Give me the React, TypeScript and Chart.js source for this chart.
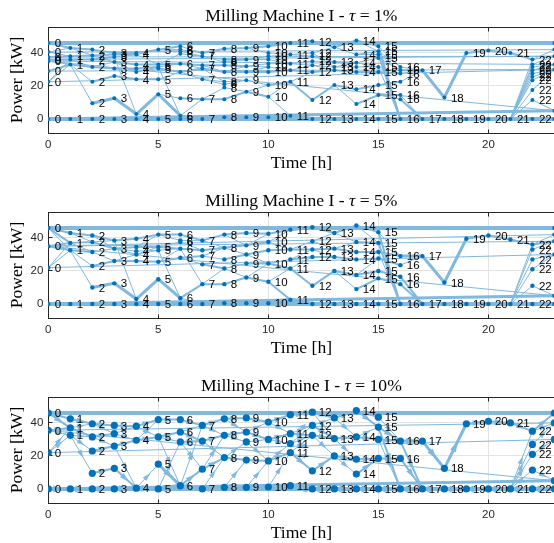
import React, { useEffect, useRef } from "react";
import { Chart, registerables } from "chart.js";

Chart.register(...registerables);

// ---------------- data ----------------
const TAU_LABELS = ["1%", "5%", "10%"];
const X_TICKS = [0, 5, 10, 15, 20];
const Y_TICKS = [0, 20, 40];
const X_RANGE = [0, 23];
const Y_RANGE = [-8.5, 55.7];

// node power levels (kW) for each hour 0..23
const NODES_1: number[][] = [
  [46, 40.5, 37.5, 36, 35, 29, 22.5, 0],
  [43, 38, 36, 33, 0],
  [42, 38.5, 36, 31.5, 22.5, 9.5, 0],
  [40, 39, 37.5, 34.5, 30.5, 26, 12.5, 0],
  [40, 39, 33, 30.5, 28.5, 24, 3, 0],
  [42, 33, 31.5, 30.5, 24, 15, 0],
  [44, 42, 41, 39.5, 33.5, 28.5, 12.5, 2, 0],
  [40, 38, 32.5, 30.5, 24, 12, 0],
  [42.5, 36, 34.5, 32.5, 28.5, 22.5, 21, 19, 12, 1],
  [43, 36, 32, 28.5, 23.5, 16.5, 1],
  [44, 40, 38, 36, 33.5, 31.5, 28.5, 20.5, 13.5, 1],
  [46, 39, 33.5, 29.5, 22.5, 2],
  [47, 40, 38, 35, 32.5, 28.5, 11.5, 0],
  [43.5, 34.5, 31.5, 29.5, 20.5, 0],
  [47.5, 39, 34, 31.5, 28.5, 18, 9, 0],
  [44, 41, 39, 37, 31.5, 28.5, 20.5, 14.5, 0],
  [31.5, 29.5, 27.5, 22.5, 14.5, 12, 0],
  [29.5, 0],
  [13, 0],
  [40, 0],
  [41.5, 0],
  [40, 0],
  [36, 33, 31.5, 29.5, 27.5, 25.5, 23.5, 17.5, 11.5, 0],
  [46, 42, 38, 33, 30, 5, 0],
];
// transitions hour h -> h+1 : [fromIndex, toIndex, weightClass]
const EDGES_1: number[][][] = [
  [[0,0,2],[1,0,1],[1,1,1],[2,1,2],[3,2,2],[4,2,1],[4,3,1],[5,3,2],[6,3,1],[6,2,1],[7,4,4]],
  [[0,0,2],[1,1,2],[2,2,2],[3,3,2],[3,4,1],[3,5,1],[4,6,4],[0,1,1],[2,3,1]],
  [[0,0,2],[1,1,2],[2,2,2],[2,3,1],[3,4,2],[4,5,2],[5,6,3],[6,7,4],[3,3,1],[1,3,1]],
  [[0,0,2],[1,1,2],[2,1,1],[3,2,2],[4,3,2],[4,4,1],[5,5,2],[6,6,3],[7,7,4],[2,6,1],[3,4,1]],
  [[0,0,2],[1,0,1],[1,1,1],[2,1,2],[3,2,2],[4,3,1],[5,4,2],[6,5,3],[7,6,4],[4,2,1],[6,6,1]],
  [[0,0,2],[0,1,1],[0,2,1],[1,3,1],[1,4,2],[2,4,1],[3,5,2],[4,5,1],[5,6,1],[5,7,3],[6,8,4],[2,7,1]],
  [[0,0,1],[1,0,1],[2,1,1],[3,1,1],[4,2,2],[5,3,2],[5,4,1],[6,5,2],[7,5,1],[7,6,2],[8,6,4],[4,3,1]],
  [[0,0,2],[1,1,1],[1,2,1],[2,3,2],[3,4,2],[4,5,1],[4,6,1],[5,7,1],[5,8,2],[6,9,4],[2,4,1],[3,5,1]],
  [[0,0,2],[1,1,2],[2,1,1],[3,2,2],[4,3,2],[5,4,1],[6,4,1],[7,5,1],[8,5,2],[9,6,4],[4,2,1]],
  [[0,0,2],[0,1,1],[1,2,1],[1,3,1],[2,4,1],[2,5,1],[3,6,2],[4,7,1],[5,7,1],[5,8,2],[6,9,4],[3,5,1]],
  [[0,0,2],[1,1,1],[2,1,1],[3,2,1],[4,2,1],[5,3,1],[6,3,2],[7,4,2],[8,4,1],[8,5,1],[9,5,4]],
  [[0,0,3],[1,1,1],[1,2,1],[2,3,1],[2,4,1],[3,5,2],[4,6,2],[5,7,4],[4,5,1],[3,4,1]],
  [[0,0,2],[1,0,1],[2,1,1],[3,1,1],[4,2,1],[5,3,2],[6,4,2],[7,5,4],[4,3,1],[1,2,1]],
  [[0,0,2],[0,1,1],[1,2,2],[2,3,1],[3,4,2],[4,5,2],[4,6,1],[5,7,4],[2,2,1]],
  [[0,0,2],[0,1,1],[1,2,1],[2,3,1],[2,4,1],[3,4,1],[4,5,2],[5,6,2],[6,7,2],[7,8,4],[1,1,1]],
  [[0,0,1],[1,0,1],[2,1,1],[3,1,1],[4,2,1],[5,2,2],[6,3,2],[7,4,2],[7,5,1],[8,6,4],[0,6,2],[2,6,2],[4,6,1]],
  [[0,0,1],[1,0,2],[2,0,1],[3,0,1],[4,1,1],[5,1,2],[6,1,4]],
  [[0,0,3],[1,1,4]],
  [[0,0,3],[1,1,4]],
  [[0,0,2],[1,1,4]],
  [[0,0,2],[1,1,4]],
  [[0,0,2],[1,0,1],[1,1,1],[1,2,1],[1,3,1],[1,4,1],[1,5,1],[1,6,1],[1,7,1],[1,8,1],[1,9,4]],
  [[0,1,1],[0,2,1],[1,2,1],[2,3,1],[3,3,1],[4,4,1],[5,4,1],[6,4,1],[7,4,1],[8,5,1],[9,6,4]],
];
// day wrap: hour 23 -> hour 0
const WRAP_1: number[][] = [[0,0,4],[1,1,1],[2,2,1],[2,3,1],[3,4,1],[4,5,1],[4,6,1],[5,4,1],[5,7,3],[6,7,4]];

const NODES_2: number[][] = [
  [46, 35, 22, 0],
  [43, 37, 32.5, 0],
  [41.5, 37.5, 31.5, 23, 10, 0],
  [38.5, 33.5, 26, 12.5, 0],
  [39.5, 34.5, 32, 30, 26, 3, 0],
  [42, 34.5, 32.5, 25.5, 15, 0],
  [42, 38.5, 37.5, 33.5, 28, 3.5, 0],
  [38.5, 32.5, 29, 24, 12, 0],
  [42, 34, 27, 21.5, 12, 0.5],
  [43, 35.5, 30, 24.5, 16, 0.5],
  [42.5, 37.5, 32.5, 24.5, 13.5, 0.5],
  [45, 33, 27, 21.5, 2.5],
  [46.5, 38, 33, 28.5, 11, 0],
  [43, 33.5, 28.5, 20, 0],
  [47.5, 37.5, 31.5, 27, 17.5, 9, 0],
  [43.5, 37, 31.5, 27.5, 20, 15.5, 0],
  [29, 23.5, 16.5, 12, 0],
  [29, 0],
  [13, 0],
  [39.5, 0],
  [41.5, 0],
  [39, 0],
  [36, 33, 27, 21, 11, 0],
  [46, 42, 38, 30, 5, 0],
];
const EDGES_2: number[][][] = [
  [[0,0,2],[0,1,2],[1,1,2],[1,2,2],[2,1,1],[2,2,1],[3,3,4],[0,2,1]],
  [[0,0,2],[1,1,2],[1,2,1],[2,2,2],[2,3,1],[2,4,1],[3,5,4],[0,1,1]],
  [[0,0,2],[1,0,1],[1,1,2],[2,1,1],[2,2,1],[3,2,2],[4,3,3],[5,4,4],[0,1,1]],
  [[0,0,2],[1,1,2],[1,2,1],[1,3,1],[2,4,2],[3,5,3],[4,6,4],[0,5,1],[2,3,1]],
  [[0,0,2],[1,1,2],[2,2,1],[3,2,1],[4,3,2],[5,4,3],[6,5,4],[1,0,1],[3,1,1]],
  [[0,0,2],[0,1,1],[1,2,1],[1,3,2],[2,3,1],[3,4,2],[4,5,3],[5,6,4],[2,5,1],[3,3,1]],
  [[0,0,2],[1,0,1],[2,1,1],[3,1,2],[4,2,2],[4,3,1],[5,4,2],[6,5,4],[3,4,1],[5,5,1]],
  [[0,0,2],[1,1,2],[2,2,1],[3,3,2],[4,4,2],[5,5,4],[2,1,1],[4,3,1],[0,1,1]],
  [[0,0,2],[1,1,2],[2,2,2],[3,3,1],[4,4,2],[5,5,4],[1,2,1],[3,4,1],[0,1,1]],
  [[0,0,2],[1,1,2],[2,2,2],[3,3,2],[4,4,2],[5,5,4],[1,0,1],[2,3,1],[4,3,1]],
  [[0,0,2],[1,1,1],[2,1,2],[3,2,1],[3,3,2],[4,3,1],[4,4,2],[5,4,4],[1,0,1]],
  [[0,0,3],[1,1,1],[1,2,2],[2,3,2],[3,4,2],[4,5,4],[2,2,1],[3,3,1]],
  [[0,0,2],[1,1,1],[2,1,2],[3,2,2],[4,3,2],[5,4,4],[1,0,1],[2,2,1]],
  [[0,0,2],[0,1,1],[1,2,2],[2,3,2],[3,4,2],[3,5,1],[4,6,4],[1,1,1]],
  [[0,0,2],[1,1,2],[2,2,2],[3,3,2],[4,4,2],[5,5,2],[6,6,4],[0,1,1],[4,3,1]],
  [[0,0,1],[1,0,1],[2,0,2],[3,1,2],[4,2,2],[5,3,2],[6,4,4],[0,4,2],[1,4,2],[2,4,1]],
  [[0,0,3],[1,0,1],[2,1,2],[3,1,2],[4,1,4]],
  [[0,0,3],[1,1,4]],
  [[0,0,3],[1,1,4]],
  [[0,0,2],[1,1,4]],
  [[0,0,2],[1,1,4]],
  [[0,0,2],[1,0,1],[1,1,1],[1,2,1],[1,3,1],[1,4,1],[1,5,4]],
  [[0,1,1],[0,2,2],[1,2,1],[2,3,1],[3,3,1],[4,4,1],[5,5,4]],
];
const WRAP_2: number[][] = [[0,0,4],[1,1,1],[2,1,1],[3,2,1],[4,1,1],[4,3,3],[5,3,4]];

const NODES_3: number[][] = [
  [46, 35.5, 22, 0],
  [42.5, 37, 32.5, 0],
  [39.5, 31.5, 23, 9.5, 0],
  [38.5, 33.5, 26, 12.5, 0],
  [38, 29.5, 0.5],
  [42, 31.5, 15, 0],
  [42, 34.5, 28.5, 2],
  [38.5, 29, 12, 0],
  [42.5, 32.5, 19, 1],
  [43, 34.5, 28.5, 17.5, 1],
  [40.5, 30, 17, 1.2],
  [45, 33.5, 27.5, 22, 2],
  [46.5, 38.5, 32.5, 11, 0],
  [43, 30.5, 20, 0],
  [47.5, 31.5, 18, 9, 0],
  [43.5, 37.5, 30, 18.5, 0],
  [29, 18.5, 0],
  [29, 0],
  [12.5, 0],
  [39.5, 0],
  [41, 0],
  [40, 0],
  [35, 27, 21, 11.5, 0],
  [46, 40, 30, 5, 0],
];
const EDGES_3: number[][][] = [
  [[0,0,2],[0,1,2],[1,1,2],[1,2,1],[2,1,1],[2,2,1],[3,3,4]],
  [[0,0,2],[1,0,1],[1,1,2],[2,1,1],[2,2,1],[2,3,1],[3,4,4]],
  [[0,0,2],[0,1,1],[1,1,2],[1,2,1],[2,2,2],[3,3,2],[4,4,4]],
  [[0,0,2],[1,0,1],[1,1,1],[2,1,2],[2,2,1],[3,2,2],[4,2,4]],
  [[0,0,2],[0,1,1],[1,1,2],[1,0,1],[2,2,1],[2,3,4]],
  [[0,0,2],[1,1,2],[1,2,1],[1,3,1],[2,3,3],[3,3,4],[3,2,1]],
  [[0,0,2],[1,0,1],[1,1,2],[2,1,2],[2,2,1],[3,2,2],[3,3,4],[3,0,1]],
  [[0,0,2],[0,1,1],[1,1,2],[1,2,1],[2,1,1],[2,2,2],[3,3,4],[3,2,1]],
  [[0,0,2],[0,1,1],[1,1,2],[1,2,1],[2,2,1],[2,3,2],[3,4,4],[3,3,1]],
  [[0,0,2],[1,0,1],[1,1,2],[2,1,1],[2,2,1],[3,2,2],[4,3,4],[4,2,1]],
  [[0,0,2],[0,1,1],[1,1,2],[1,2,1],[2,2,1],[2,3,2],[3,4,4],[3,3,1]],
  [[0,0,3],[1,1,1],[1,2,2],[2,2,1],[2,1,1],[3,3,2],[3,2,1],[4,4,4]],
  [[0,0,2],[0,1,1],[1,0,1],[1,1,2],[2,1,2],[2,2,1],[3,2,2],[4,3,4]],
  [[0,0,2],[0,1,1],[1,1,2],[1,2,1],[2,2,2],[2,3,1],[3,4,4]],
  [[0,0,2],[0,1,2],[1,1,1],[1,2,2],[2,3,2],[3,3,2],[4,4,4]],
  [[0,0,1],[1,0,2],[1,2,2],[2,0,2],[2,2,1],[3,1,2],[4,2,4]],
  [[0,0,3],[0,1,2],[1,1,2],[2,1,4]],
  [[0,0,3],[1,1,4]],
  [[0,0,3],[1,1,4]],
  [[0,0,2],[1,1,4]],
  [[0,0,2],[1,1,4]],
  [[0,0,2],[1,0,1],[1,1,1],[1,2,1],[1,3,1],[1,4,4]],
  [[0,0,2],[0,1,1],[1,1,1],[2,2,1],[3,3,1],[4,4,4]],
];
const WRAP_3: number[][] = [[0,0,4],[1,1,1],[2,2,1],[3,1,1],[3,3,3],[4,3,4]];

// ---------------- style ----------------
const CANVAS_W = 570;
const PANEL_H = 185;
const PLOT_LEFT = 48.3;
const PLOT_RIGHT = 554.4;
const PLOT_TOP = 27;
const PLOT_BOTTOM = 133;
const EDGE_COLOR = "rgb(128,184,222)";
const NODE_COLOR = "#0072BD";
const AXIS_COLOR = "#262626";
const GRID_COLOR = "#e3e3e3";
const SANS = "'Liberation Sans', Arial, sans-serif";
const SERIF = "'Liberation Serif', 'Times New Roman', serif";
const SERIF_SIZE = 17.6;
const WIDTH_PX = [0, 1, 2, 3, 4];

const PANELS = [
  { nodes: NODES_1, edges: EDGES_1, wrap: WRAP_1, radius: 2, arrows: false },
  { nodes: NODES_2, edges: EDGES_2, wrap: WRAP_2, radius: 2.2, arrows: false },
  { nodes: NODES_3, edges: EDGES_3, wrap: WRAP_3, radius: 3.6, arrows: true },
];

type PanelProps = {
  nodes: number[][];
  edges: number[][][];
  wrap: number[][];
  radius: number;
  arrows: boolean;
  tau: string;
  top: number;
};

function edgeList(nodes: number[][], edges: number[][][], wrap: number[][]) {
  const out: { x1: number; y1: number; x2: number; y2: number; w: number }[] = [];
  edges.forEach((list, h) =>
    list.forEach(([i, j, w]) =>
      out.push({ x1: h, y1: nodes[h][i], x2: h + 1, y2: nodes[h + 1][j], w })
    )
  );
  const last = nodes.length - 1;
  wrap.forEach(([i, j, w]) =>
    out.push({ x1: last, y1: nodes[last][i], x2: 0, y2: nodes[0][j], w })
  );
  return out;
}

function Panel({ nodes, edges, wrap, radius, arrows, tau, top }: PanelProps) {
  const ref = useRef<HTMLCanvasElement>(null);
  useEffect(() => {
    const canvas = ref.current;
    if (!canvas) return;
    const list = edgeList(nodes, edges, wrap);
    const byW: Record<number, any[]> = {};
    list.forEach((e) => {
      (byW[e.w] = byW[e.w] || []).push(
        { x: e.x1, y: e.y1 },
        { x: e.x2, y: e.y2 },
        { x: e.x2, y: null }
      );
    });
    const nodePts: { x: number; y: number; h: number }[] = [];
    nodes.forEach((vals, h) => vals.forEach((v) => nodePts.push({ x: h, y: v, h })));

    const datasets: any[] = [
      {
        type: "scatter",
        data: nodePts,
        pointRadius: radius,
        pointBackgroundColor: NODE_COLOR,
        pointBorderWidth: 0,
        showLine: false,
        order: 0,
      },
    ];
    Object.keys(byW).forEach((k) => {
      const w = Number(k);
      datasets.push({
        type: "scatter",
        data: byW[w],
        showLine: true,
        spanGaps: false,
        borderColor: EDGE_COLOR,
        borderWidth: WIDTH_PX[w],
        borderCapStyle: "round",
        borderJoinStyle: "round",
        pointRadius: 0,
        order: w,
      });
    });

    const decor = {
      id: "decor",
      beforeDatasetsDraw(chart: any) {
        const { ctx, chartArea: a, scales } = chart;
        const L = Math.floor(a.left) + 0.5;
        const T = Math.floor(a.top) + 0.5;
        const B = Math.floor(a.bottom) + 0.5;
        const R = Math.floor(a.right) + 0.5;
        ctx.save();
        ctx.strokeStyle = AXIS_COLOR;
        ctx.lineWidth = 1;
        ctx.strokeRect(L, T, R - L, B - T);
        ctx.beginPath();
        X_TICKS.forEach((v) => {
          const px = Math.floor(scales.x.getPixelForValue(v)) + 0.5;
          ctx.moveTo(px, B);
          ctx.lineTo(px, B - 4);
          ctx.moveTo(px, T);
          ctx.lineTo(px, T + 4);
        });
        Y_TICKS.forEach((v) => {
          const py = Math.floor(scales.y.getPixelForValue(v)) + 0.5;
          ctx.moveTo(L, py);
          ctx.lineTo(L + 4, py);
        });
        ctx.stroke();
        ctx.restore();
      },
      beforeDatasetDraw(chart: any, args: any) {
        if (!arrows || args.index !== 0) return;
        const { ctx, scales } = chart;
        ctx.save();
        ctx.fillStyle = EDGE_COLOR;
        list.forEach((e) => {
          const x1 = scales.x.getPixelForValue(e.x1);
          const y1 = scales.y.getPixelForValue(e.y1);
          const x2 = scales.x.getPixelForValue(e.x2);
          const y2 = scales.y.getPixelForValue(e.y2);
          const dx = x2 - x1, dy = y2 - y1;
          const len = Math.hypot(dx, dy);
          if (len < 12) return;
          const ux = dx / len, uy = dy / len;
          const mx = (x1 + x2) / 2, my = (y1 + y2) / 2;
          const s = 3.5 + e.w * 0.6;
          ctx.beginPath();
          ctx.moveTo(mx + ux * s, my + uy * s);
          ctx.lineTo(mx - ux * s - uy * s * 0.6, my - uy * s + ux * s * 0.6);
          ctx.lineTo(mx - ux * s + uy * s * 0.6, my - uy * s - ux * s * 0.6);
          ctx.closePath();
          ctx.fill();
        });
        ctx.restore();
      },
      afterDatasetsDraw(chart: any) {
        const { ctx, scales } = chart;
        ctx.save();
        ctx.font = `11.5px ${SANS}`;
        ctx.fillStyle = "#000";
        ctx.textAlign = "left";
        ctx.textBaseline = "middle";
        nodePts.forEach((p) => {
          const px = scales.x.getPixelForValue(p.x);
          const py = scales.y.getPixelForValue(p.y);
          ctx.fillText(String(p.h), px + 6.5, py + 1);
        });
        ctx.restore();
      },
      afterDraw(chart: any) {
        const { ctx, chartArea: a } = chart;
        ctx.save();
        ctx.fillStyle = "#000";
        ctx.textBaseline = "alphabetic";
        // title
        const parts: [string, string][] = [
          ["Milling Machine I - ", `${SERIF_SIZE}px ${SERIF}`],
          ["\u03C4", `italic ${SERIF_SIZE}px ${SERIF}`],
          [" = " + tau, `${SERIF_SIZE}px ${SERIF}`],
        ];
        let total = 0;
        parts.forEach(([t, f]) => {
          ctx.font = f;
          total += ctx.measureText(t).width;
        });
        let cx = (a.left + a.right) / 2 - total / 2;
        ctx.textAlign = "left";
        parts.forEach(([t, f]) => {
          ctx.font = f;
          ctx.fillText(t, cx, 21);
          cx += ctx.measureText(t).width;
        });
        // x label
        ctx.font = `${SERIF_SIZE}px ${SERIF}`;
        ctx.textAlign = "center";
        ctx.fillText("Time [h]", (a.left + a.right) / 2, 168);
        // y label
        ctx.translate(22, (a.top + a.bottom) / 2);
        ctx.rotate(-Math.PI / 2);
        ctx.fillText("Power [kW]", 0, 0);
        ctx.restore();
      },
    };

    const chart = new Chart(canvas, {
      type: "scatter",
      data: { datasets },
      options: {
        animation: false,
        responsive: false,
        maintainAspectRatio: false,
        events: [],
        layout: {
          padding: { left: 0, top: PLOT_TOP, right: CANVAS_W - PLOT_RIGHT, bottom: 0 },
        },
        plugins: {
          legend: { display: false },
          title: { display: false },
          tooltip: { enabled: false },
        },
        scales: {
          x: {
            type: "linear",
            min: X_RANGE[0],
            max: X_RANGE[1],
            afterBuildTicks: (s: any) => {
              s.ticks = X_TICKS.map((v) => ({ value: v }));
            },
            afterFit: (s: any) => {
              s.height = PANEL_H - PLOT_BOTTOM;
            },
            ticks: {
              font: { family: SANS, size: 11.5 },
              color: AXIS_COLOR,
              padding: 5,
              maxRotation: 0,
              autoSkip: false,
            },
            grid: { color: GRID_COLOR, drawTicks: false, lineWidth: 1 },
            border: { display: false },
          },
          y: {
            type: "linear",
            min: Y_RANGE[0],
            max: Y_RANGE[1],
            afterBuildTicks: (s: any) => {
              s.ticks = Y_TICKS.map((v) => ({ value: v }));
            },
            afterFit: (s: any) => {
              s.width = PLOT_LEFT;
            },
            ticks: {
              font: { family: SANS, size: 11.5 },
              color: AXIS_COLOR,
              padding: 5,
            },
            grid: { color: GRID_COLOR, drawTicks: false, lineWidth: 1 },
            border: { display: false },
          },
        },
      } as any,
      plugins: [decor],
    });
    return () => chart.destroy();
  }, [nodes, edges, wrap, radius, arrows, tau]);

  return (
    <canvas
      ref={ref}
      width={CANVAS_W}
      height={PANEL_H}
      style={{ position: "absolute", left: 0, top, width: CANVAS_W, height: PANEL_H }}
    />
  );
}

export default function App() {
  return (
    <div
      style={{
        position: "fixed",
        left: 0,
        top: 0,
        width: 554,
        height: 543,
        overflow: "hidden",
        background: "#fff",
      }}
    >
      {PANELS.map((p, k) => (
        <Panel key={k} {...p} tau={TAU_LABELS[k]} top={k * PANEL_H} />
      ))}
    </div>
  );
}
